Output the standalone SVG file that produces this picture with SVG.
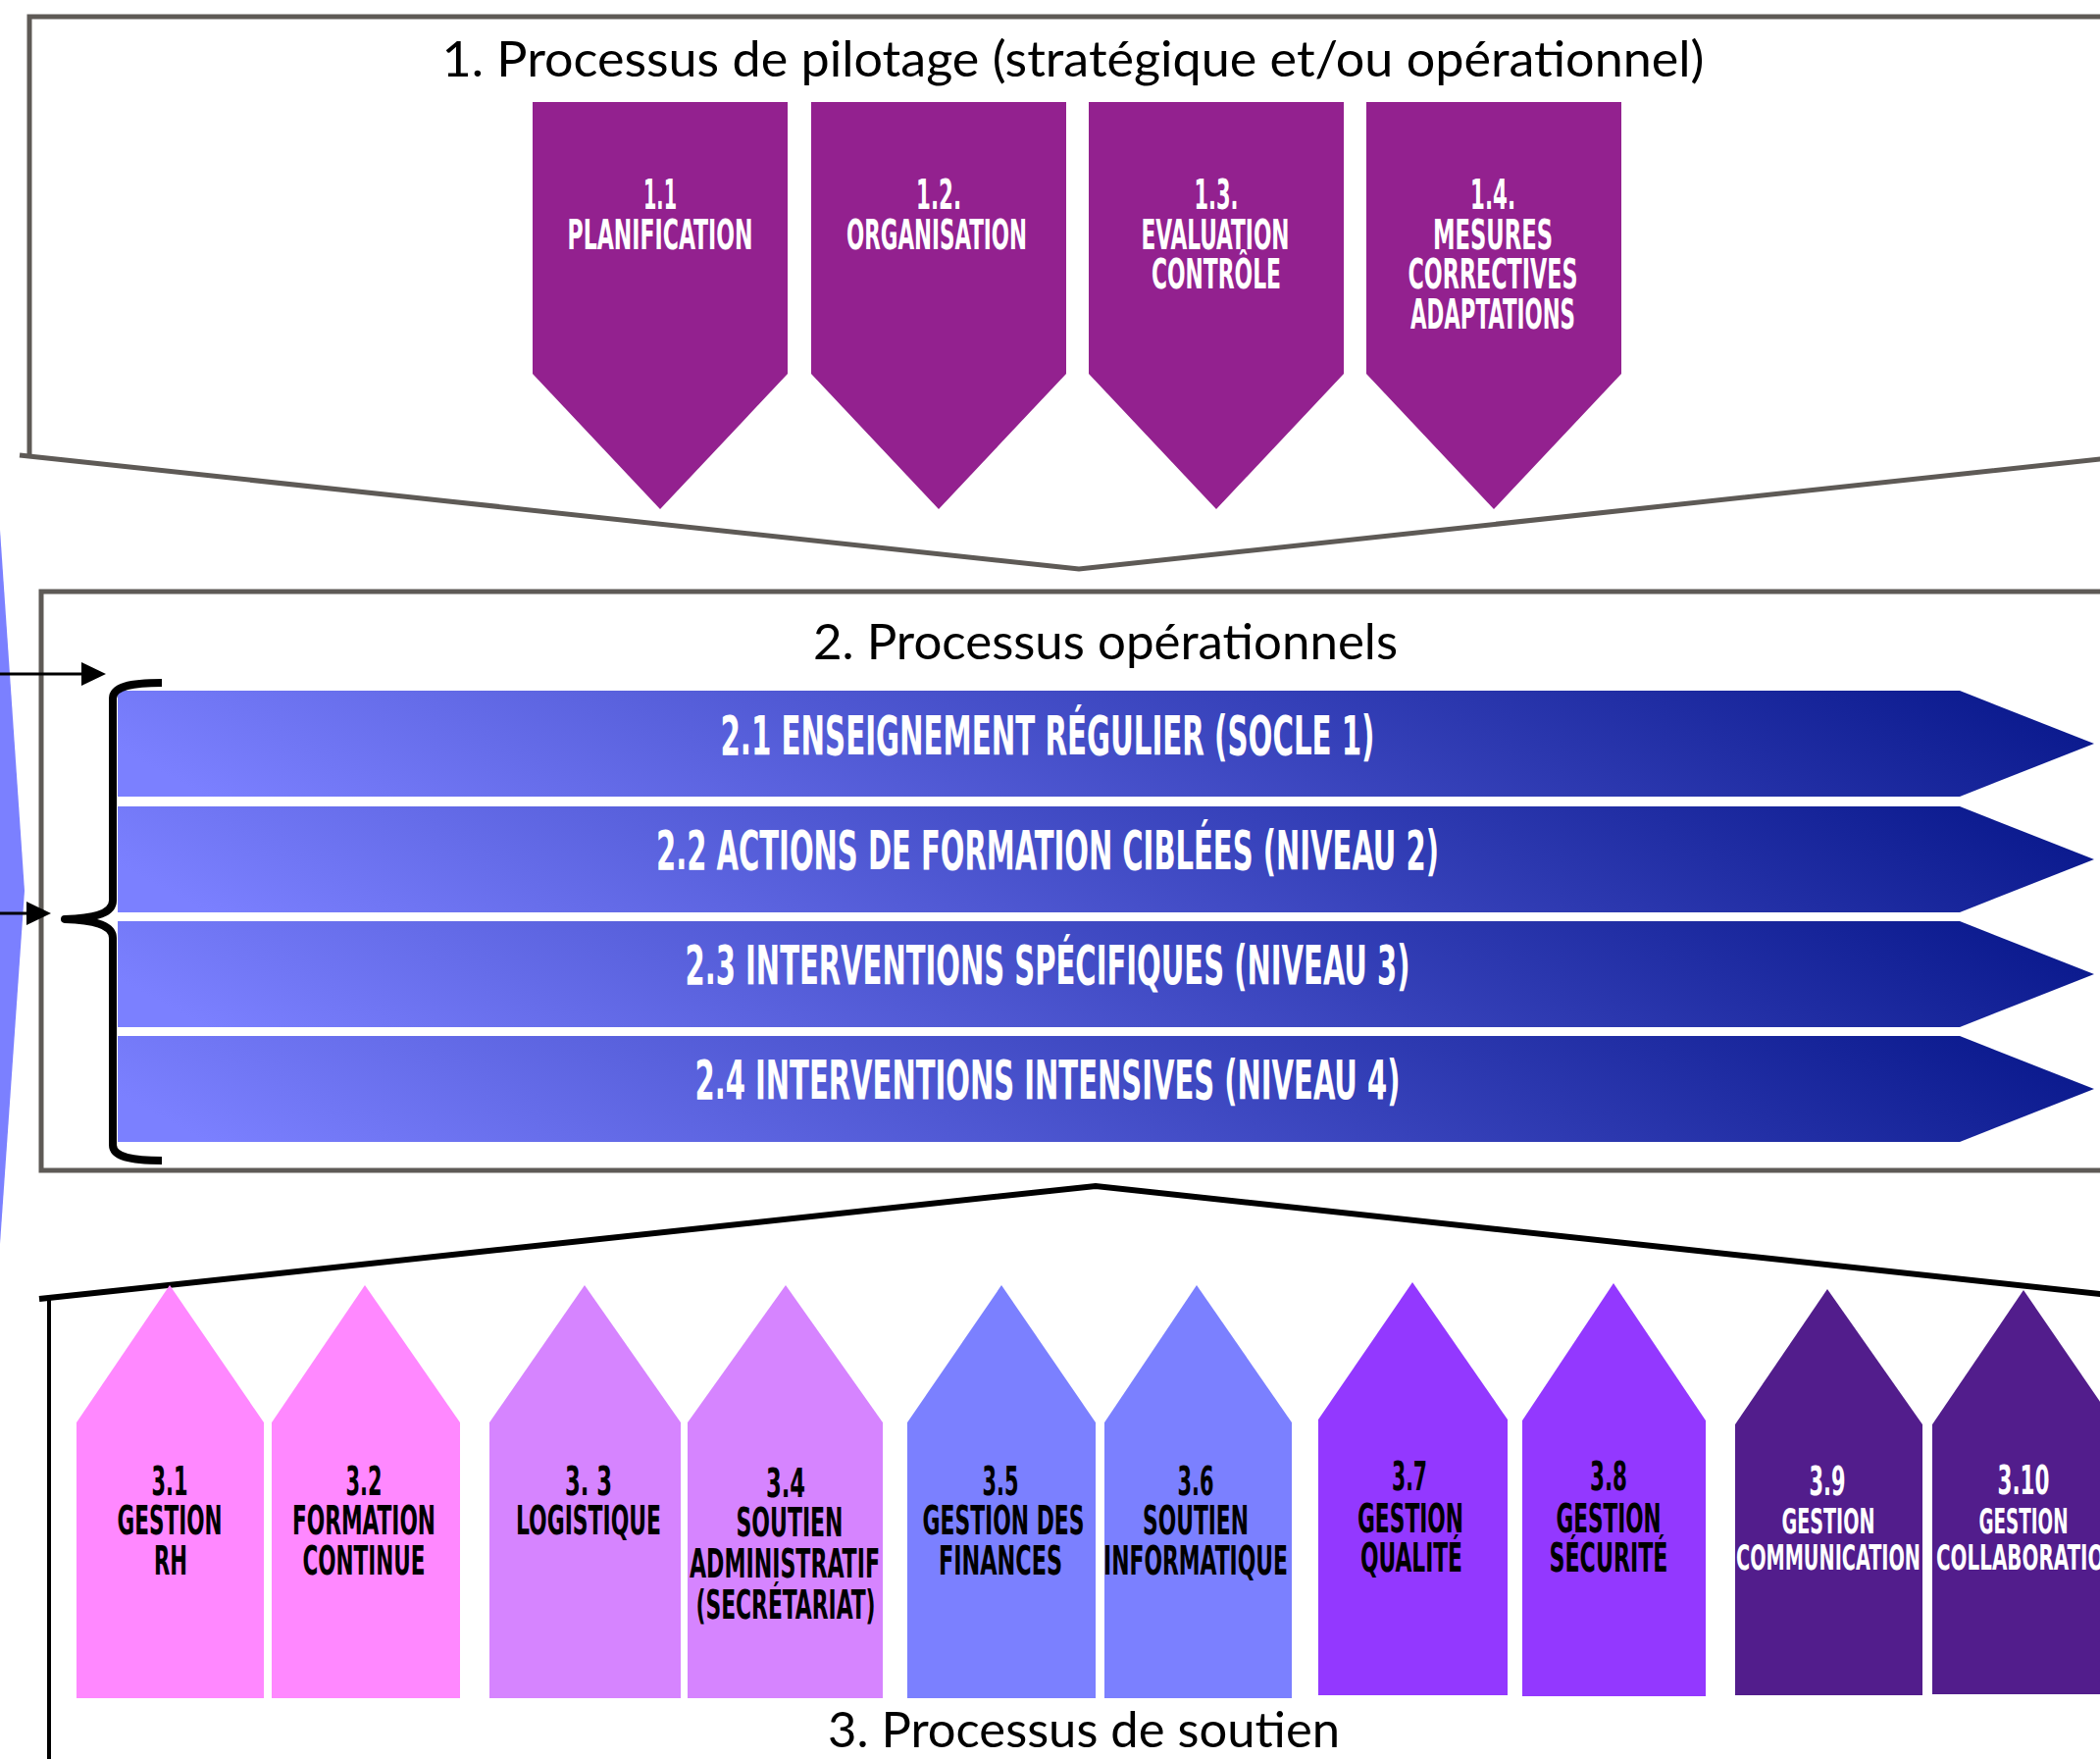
<svg xmlns="http://www.w3.org/2000/svg" width="2141" height="1793" viewBox="0 0 2141 1793">
<style>
.frame{fill:none;stroke:#5e5a56;stroke-width:5}
.roof{fill:none;stroke:#000;stroke-width:6}
.ttl{font-family:"Lato","Noto Sans","Liberation Sans",sans-serif;font-size:50px;fill:#000;text-anchor:middle}
.din{font-family:"Liberation Sans Narrow","DejaVu Sans Condensed","Liberation Sans",sans-serif;font-weight:700;text-anchor:middle}
.top{font-size:42px;fill:#fff}
.band{font-size:56px;fill:#fff}
.sup{font-size:40px;fill:#000}
.supw{font-size:40px;fill:#fff}
.sm{font-size:35px}
.pil{fill:#93218f}
.c1{fill:#ff88ff}
.c2{fill:#d684ff}
.c3{fill:#7b80ff}
.c4{fill:#9338ff}
.c5{fill:#521d8c}
.conn{stroke:#000;stroke-width:3;fill:none}
</style>
<defs>
<linearGradient id="bandGrad" x1="0" y1="0.55" x2="1" y2="0.45">
<stop offset="0" stop-color="#7b80ff"/>
<stop offset="1" stop-color="#0b1a8e"/>
</linearGradient>
<marker id="ah" viewBox="0 0 25 24" refX="17" refY="12" markerWidth="25" markerHeight="24" markerUnits="userSpaceOnUse" orient="auto">
<path d="M0,0 L25,12 L0,24 Z" fill="#000"/>
</marker>
</defs>

<!-- left blue shape -->
<polygon id="left-shape" points="0,540 25,908 0,1268" fill="#7b80ff"/>

<!-- Section 1 frame -->
<g id="section1">
<path class="frame" d="M2150,17 H30 V465"/>
<path class="frame" d="M20,464 L1100,580 L2150,467"/>
<text class="ttl" x="1094" y="78" textLength="1287" lengthAdjust="spacingAndGlyphs">1. Processus de pilotage (stratégique et/ou opérationnel)</text>
</g>

<g id="n1-1">
<path class="pil" d="M543,104 H803 V381 L673,519 L543,381 Z"/>
<text class="din top" x="673" y="213" textLength="34" lengthAdjust="spacingAndGlyphs">1.1</text>
<text class="din top" x="673" y="254" textLength="189" lengthAdjust="spacingAndGlyphs">PLANIFICATION</text>
</g>
<g id="n1-2">
<path class="pil" d="M827,104 H1087 V381 L957,519 L827,381 Z"/>
<text class="din top" x="957" y="213" textLength="46" lengthAdjust="spacingAndGlyphs">1.2.</text>
<text class="din top" x="955" y="254" textLength="184" lengthAdjust="spacingAndGlyphs">ORGANISATION</text>
</g>
<g id="n1-3">
<path class="pil" d="M1110,104 H1370 V381 L1240,519 L1110,381 Z"/>
<text class="din top" x="1240" y="213" textLength="45" lengthAdjust="spacingAndGlyphs">1.3.</text>
<text class="din top" x="1239" y="254" textLength="151" lengthAdjust="spacingAndGlyphs">EVALUATION</text>
<text class="din top" x="1240" y="294" textLength="132" lengthAdjust="spacingAndGlyphs">CONTRÔLE</text>
</g>
<g id="n1-4">
<path class="pil" d="M1393,104 H1653 V381 L1523,519 L1393,381 Z"/>
<text class="din top" x="1522" y="213" textLength="46" lengthAdjust="spacingAndGlyphs">1.4.</text>
<text class="din top" x="1522" y="254" textLength="122" lengthAdjust="spacingAndGlyphs">MESURES</text>
<text class="din top" x="1522" y="294" textLength="173" lengthAdjust="spacingAndGlyphs">CORRECTIVES</text>
<text class="din top" x="1522" y="335" textLength="168" lengthAdjust="spacingAndGlyphs">ADAPTATIONS</text>
</g>

<!-- Section 2 frame -->
<g id="section2">
<path class="frame" d="M2150,603 H42 V1193 H2150"/>
<text class="ttl" x="1127" y="672" textLength="596" lengthAdjust="spacingAndGlyphs">2. Processus opérationnels</text>
</g>

<g id="n2-1">
<path fill="url(#bandGrad)" d="M120,704 H1998 L2135,758 L1998,812 H120 Z"/>
<text class="din band" x="1068" y="769" textLength="667" lengthAdjust="spacingAndGlyphs">2.1 ENSEIGNEMENT RÉGULIER (SOCLE 1)</text>
</g>
<g id="n2-2">
<path fill="url(#bandGrad)" d="M120,822 H1998 L2135,876 L1998,930 H120 Z"/>
<text class="din band" x="1068" y="886" textLength="798" lengthAdjust="spacingAndGlyphs">2.2 ACTIONS DE FORMATION CIBLÉES (NIVEAU 2)</text>
</g>
<g id="n2-3">
<path fill="url(#bandGrad)" d="M120,939 H1998 L2135,993 L1998,1047 H120 Z"/>
<text class="din band" x="1068" y="1003" textLength="739" lengthAdjust="spacingAndGlyphs">2.3 INTERVENTIONS SPÉCIFIQUES (NIVEAU 3)</text>
</g>
<g id="n2-4">
<path fill="url(#bandGrad)" d="M120,1056 H1998 L2135,1110 L1998,1164 H120 Z"/>
<text class="din band" x="1068" y="1120" textLength="719" lengthAdjust="spacingAndGlyphs">2.4 INTERVENTIONS INTENSIVES (NIVEAU 4)</text>
</g>

<g id="brace">
<path d="M165,696 C132,696 115,700 115,712 L115,918 C115,930 100,936 66,937 C100,938 115,944 115,956 L115,1167 C115,1179 132,1183 165,1183" fill="none" stroke="#000" stroke-width="8" stroke-linejoin="round"/>
</g>

<g id="connectors">
<line class="conn" x1="0" y1="687" x2="100" y2="687" marker-end="url(#ah)"/>
<line class="conn" x1="0" y1="931" x2="44" y2="931" marker-end="url(#ah)"/>
</g>

<!-- Section 3 frame -->
<g id="section3">
<path class="roof" d="M40,1324 L1117,1209 L2150,1320"/>
<line x1="50" y1="1324" x2="50" y2="1793" stroke="#000" stroke-width="4"/>
<text class="ttl" x="1105" y="1781" textLength="522" lengthAdjust="spacingAndGlyphs">3. Processus de soutien</text>
</g>

<g id="n3-1">
<path class="c1" d="M78,1731 V1450 L173,1310 L269,1450 V1731 Z"/>
<text class="din sup" x="173" y="1524" textLength="37" lengthAdjust="spacingAndGlyphs">3.1</text>
<text class="din sup" x="173" y="1564" textLength="107" lengthAdjust="spacingAndGlyphs">GESTION</text>
<text class="din sup" x="174" y="1605" textLength="34" lengthAdjust="spacingAndGlyphs">RH</text>
</g>
<g id="n3-2">
<path class="c1" d="M277,1731 V1450 L372,1310 L469,1450 V1731 Z"/>
<text class="din sup" x="371" y="1524" textLength="37" lengthAdjust="spacingAndGlyphs">3.2</text>
<text class="din sup" x="371" y="1564" textLength="146" lengthAdjust="spacingAndGlyphs">FORMATION</text>
<text class="din sup" x="371" y="1605" textLength="125" lengthAdjust="spacingAndGlyphs">CONTINUE</text>
</g>
<g id="n3-3">
<path class="c2" d="M499,1731 V1450 L596,1310 L694,1450 V1731 Z"/>
<text class="din sup" x="600" y="1524" textLength="48" lengthAdjust="spacingAndGlyphs">3. 3</text>
<text class="din sup" x="600" y="1564" textLength="148" lengthAdjust="spacingAndGlyphs">LOGISTIQUE</text>
</g>
<g id="n3-4">
<path class="c2" d="M701,1731 V1450 L801,1310 L900,1450 V1731 Z"/>
<text class="din sup" x="801" y="1526" textLength="40" lengthAdjust="spacingAndGlyphs">3.4</text>
<text class="din sup" x="805" y="1566" textLength="109" lengthAdjust="spacingAndGlyphs">SOUTIEN</text>
<text class="din sup" x="800" y="1608" textLength="194" lengthAdjust="spacingAndGlyphs">ADMINISTRATIF</text>
<text class="din sup" x="801" y="1650" textLength="183" lengthAdjust="spacingAndGlyphs">(SECRÉTARIAT)</text>
</g>
<g id="n3-5">
<path class="c3" d="M925,1731 V1450 L1021,1310 L1117,1450 V1731 Z"/>
<text class="din sup" x="1020" y="1524" textLength="37" lengthAdjust="spacingAndGlyphs">3.5</text>
<text class="din sup" x="1023" y="1564" textLength="165" lengthAdjust="spacingAndGlyphs">GESTION DES</text>
<text class="din sup" x="1020" y="1605" textLength="126" lengthAdjust="spacingAndGlyphs">FINANCES</text>
</g>
<g id="n3-6">
<path class="c3" d="M1126,1731 V1450 L1220,1310 L1317,1450 V1731 Z"/>
<text class="din sup" x="1219" y="1524" textLength="37" lengthAdjust="spacingAndGlyphs">3.6</text>
<text class="din sup" x="1219" y="1564" textLength="108" lengthAdjust="spacingAndGlyphs">SOUTIEN</text>
<text class="din sup" x="1219" y="1605" textLength="188" lengthAdjust="spacingAndGlyphs">INFORMATIQUE</text>
</g>
<g id="n3-7">
<path class="c4" d="M1344,1728 V1447 L1440,1307 L1537,1447 V1728 Z"/>
<text class="din sup" x="1437" y="1519" textLength="36" lengthAdjust="spacingAndGlyphs">3.7</text>
<text class="din sup" x="1438" y="1562" textLength="108" lengthAdjust="spacingAndGlyphs">GESTION</text>
<text class="din sup" x="1439" y="1602" textLength="104" lengthAdjust="spacingAndGlyphs">QUALITÉ</text>
</g>
<g id="n3-8">
<path class="c4" d="M1552,1729 V1448 L1645,1308 L1739,1448 V1729 Z"/>
<text class="din sup" x="1640" y="1519" textLength="38" lengthAdjust="spacingAndGlyphs">3.8</text>
<text class="din sup" x="1640" y="1562" textLength="107" lengthAdjust="spacingAndGlyphs">GESTION</text>
<text class="din sup" x="1640" y="1602" textLength="121" lengthAdjust="spacingAndGlyphs">SÉCURITÉ</text>
</g>
<g id="n3-9">
<path class="c5" d="M1769,1728 V1452 L1863,1314 L1960,1452 V1728 Z"/>
<text class="din supw" x="1863" y="1524" textLength="37" lengthAdjust="spacingAndGlyphs">3.9</text>
<text class="din supw sm" x="1864" y="1563" textLength="95" lengthAdjust="spacingAndGlyphs">GESTION</text>
<text class="din supw sm" x="1864" y="1600" textLength="188" lengthAdjust="spacingAndGlyphs">COMMUNICATION</text>
</g>
<g id="n3-10">
<path class="c5" d="M1970,1727 V1452 L2063,1315 L2157,1452 V1727 Z"/>
<text class="din supw" x="2063" y="1523" textLength="53" lengthAdjust="spacingAndGlyphs">3.10</text>
<text class="din supw sm" x="2063" y="1563" textLength="91" lengthAdjust="spacingAndGlyphs">GESTION</text>
<text class="din supw sm" x="2068" y="1600" textLength="188" lengthAdjust="spacingAndGlyphs">COLLABORATION</text>
</g>
</svg>
